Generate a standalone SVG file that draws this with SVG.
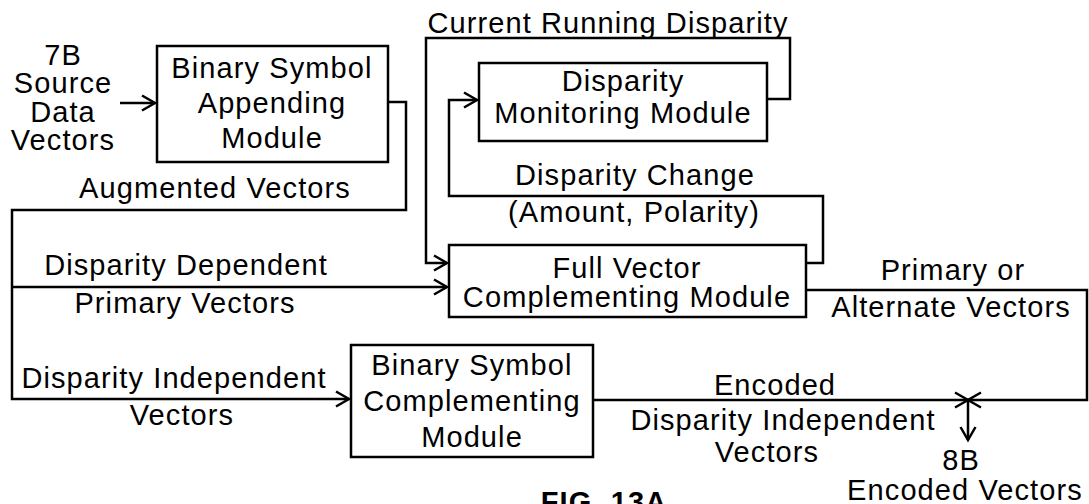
<svg xmlns="http://www.w3.org/2000/svg" width="1089" height="504" viewBox="0 0 1089 504">
<style>
.box{fill:#fff;stroke:#000;stroke-width:2.5}
.ln{fill:none;stroke:#000;stroke-width:2.5}
text{font-family:"Liberation Sans",Arial,Helvetica,sans-serif;font-size:29px;letter-spacing:1.1px;text-anchor:middle;fill:#000}
.fig{font-weight:bold}
</style>
<defs>
<marker id="ah" markerUnits="userSpaceOnUse" markerWidth="20" markerHeight="20" viewBox="-15 -10 20 20" refX="0" refY="0" orient="auto">
<path d="M-13,-7.5 L0,0 L-13,7.5" fill="none" stroke="#000" stroke-width="2.5"/>
</marker>
</defs>
<rect width="1089" height="504" fill="#fff"/>
<g id="connectors">
<line class="ln" x1="120" y1="103" x2="155" y2="103" marker-end="url(#ah)"/>
<polyline class="ln" points="388,102 406,102 406,210 12,210 12,399 349,399" marker-end="url(#ah)"/>
<line class="ln" x1="12" y1="287" x2="447" y2="287" marker-end="url(#ah)"/>
<polyline class="ln" points="767,99 790,99 790,38 426,38 426,263 447,263" marker-end="url(#ah)"/>
<polyline class="ln" points="806,263 823,263 823,196 449,196 449,100 477,100" marker-end="url(#ah)"/>
<polyline class="ln" points="806,290 1087,290 1087,400 968,400" marker-end="url(#ah)"/>
<line class="ln" x1="593" y1="400" x2="968" y2="400" marker-end="url(#ah)"/>
<line class="ln" x1="968" y1="400" x2="968" y2="440" marker-end="url(#ah)"/>
</g>
<g id="bsa">
<rect class="box" x="157" y="46" width="231" height="116"/>
<text x="272" y="78">Binary Symbol</text>
<text x="272" y="113">Appending</text>
<text x="272" y="148">Module</text>
</g>
<g id="dmm">
<rect class="box" x="479" y="63" width="288" height="78"/>
<text x="623" y="91">Disparity</text>
<text x="623" y="123">Monitoring Module</text>
</g>
<g id="fvc">
<rect class="box" x="449" y="245" width="357" height="72"/>
<text x="627" y="278">Full Vector</text>
<text x="627" y="307">Complementing Module</text>
</g>
<g id="bsc">
<rect class="box" x="351" y="345" width="242" height="112"/>
<text x="472" y="375">Binary Symbol</text>
<text x="472" y="411">Complementing</text>
<text x="472" y="447">Module</text>
</g>
<g id="labels">
<text x="63" y="65">7B</text>
<text x="63" y="93">Source</text>
<text x="63" y="122">Data</text>
<text x="63" y="150">Vectors</text>
<text x="608" y="33">Current Running Disparity</text>
<text x="215" y="198">Augmented Vectors</text>
<text x="635" y="185">Disparity Change</text>
<text x="634" y="222">(Amount, Polarity)</text>
<text x="186" y="275">Disparity Dependent</text>
<text x="185" y="313">Primary Vectors</text>
<text x="174" y="388">Disparity Independent</text>
<text x="182" y="425">Vectors</text>
<text x="953" y="280">Primary or</text>
<text x="951" y="317">Alternate Vectors</text>
<text x="775" y="395">Encoded</text>
<text x="783" y="430">Disparity Independent</text>
<text x="767" y="462">Vectors</text>
<text x="961" y="470">8B</text>
<text x="965" y="500">Encoded Vectors</text>
<text class="fig" x="604" y="512">FIG. 13A</text>
</g>
</svg>
